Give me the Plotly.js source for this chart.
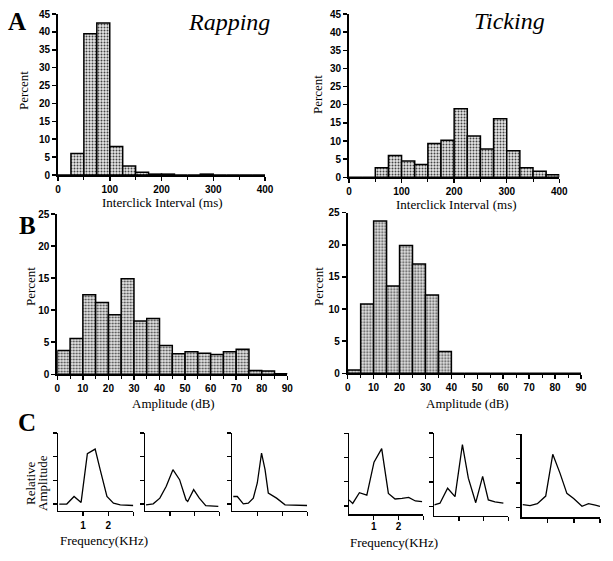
<!DOCTYPE html>
<html><head><meta charset="utf-8">
<script src="https://cdn.plot.ly/plotly-3.0.1.min.js"></script>
<style>html,body{margin:0;padding:0;background:#fff;}#chart{width:613px;height:561px;}</style>
</head><body><div id="chart"></div>
<script>
// ---- Data ----
const intervalBins = [0,25,50,75,100,125,150,175,200,225,250,275,300,325,350,375];
const rappingInterval = [0,6,39.5,42.5,8,2.5,0.8,0.25,0.25,0,0,0.25,0,0,0,0];
const tickingInterval = [0,0,2.6,6,4.5,3.5,9.3,10.2,18.9,11.4,7.8,16.1,7.3,2.6,1.7,0.7];
const amplitudeBins = [0,5,10,15,20,25,30,35,40,45,50,55,60,65,70,75,80,85];
const rappingAmplitude = [3.7,5.6,12.4,11.2,9.3,14.9,8.3,8.7,4.5,3.2,3.5,3.3,3.1,3.5,3.9,0.6,0.5,0.1];
const tickingAmplitude = [0.5,10.8,23.7,13.6,19.9,17,12.2,3.4,0,0,0,0,0,0,0,0,0,0];

const rapFreq1 = [0.05,0.35,0.64,0.92,1.17,1.48,1.68,1.95,2.21,2.48,3.0];
const rapAmp1  = [0,0,0.32,0.07,2.13,2.32,1.45,0.32,0.04,-0.03,-0.06];
const rapFreq2 = [0.03,0.32,0.59,0.85,1.12,1.39,1.65,1.72,1.96,2.19,2.45,2.96];
const rapAmp2  = [-0.03,0.01,0.25,0.75,1.45,1.03,0.18,0.11,0.61,0.25,-0.07,-0.1];
const rapFreq3 = [0.04,0.2,0.44,0.64,0.84,1.0,1.17,1.31,1.44,1.77,2.11,2.99];
const rapAmp3  = [0.32,0.32,0.01,0.04,0.25,0.89,2.15,1.45,0.46,0.25,-0.03,-0.06];
const tickFreq1 = [0,0.15,0.42,0.72,1.01,1.32,1.59,1.86,2.14,2.41,2.68,2.95];
const tickAmp1  = [0.25,0.11,0.55,0.45,1.81,2.37,0.52,0.29,0.32,0.36,0.21,0.18];
const tickFreq2 = [0,0.23,0.54,0.84,1.14,1.38,1.68,1.96,2.19,2.46,2.8];
const tickAmp2  = [0.07,0.14,0.75,0.41,2.53,1.16,0.16,1.23,0.27,0.19,0.14];
const tickFreq3 = [0.04,0.32,0.6,0.92,1.19,1.47,1.73,1.99,2.31,2.56,2.82,3.0];
const tickAmp3  = [0.12,0.08,0.16,0.47,2.18,1.4,0.58,0.37,0.05,0.16,0.1,0.05];

const freqTicks = [1,2,3];
const freqTickText = ['1','2',''];

// ---- Layout helpers ----
const W = 613, H = 561;
const dx = (a,b) => [a/W, b/W];
const dy = (top,bot) => [1-bot/H, 1-top/H];
const tickFont = {family:'Liberation Sans, Arial, sans-serif', size:10, color:'#000', weight:'bold'};
const serif = 'Liberation Serif, Times New Roman, serif';

const barMarker = {
  color:'#c4c4c4',
  line:{color:'#000', width:1.5},
  pattern:{shape:'.', fgcolor:'#444', bgcolor:'#e6e6e6', size:3, solidity:0.35}
};

function bar(x, y, w, xa, ya){
  return {type:'bar', x:x, y:y, width:w, offset:0, xaxis:xa, yaxis:ya, marker:barMarker, hoverinfo:'skip'};
}
function line(x, y, xa, ya){
  return {type:'scatter', mode:'lines', x:x, y:y, xaxis:xa, yaxis:ya, line:{color:'#000', width:1.3}, hoverinfo:'skip'};
}

function histX(domain, range, dtick, minor, anchor){
  return {domain:domain, range:range, anchor:anchor, tickmode:'linear', tick0:0, dtick:dtick,
    showline:true, linewidth:2, linecolor:'#000', ticks:'outside', ticklen:4, tickwidth:1.5, tickcolor:'#000',
    minor:{dtick:minor, ticks:'outside', ticklen:3, tickwidth:1, tickcolor:'#000'},
    showgrid:false, zeroline:false, tickfont:tickFont, fixedrange:true};
}
function histY(domain, range, anchor){
  return {domain:domain, range:range, anchor:anchor, tickmode:'linear', tick0:0, dtick:5,
    showline:true, linewidth:2, linecolor:'#000', ticks:'outside', ticklen:4, tickwidth:1.5, tickcolor:'#000',
    showgrid:false, zeroline:false, tickfont:tickFont, fixedrange:true};
}
function specX(domain, anchor, labels, standoff){
  return {domain:domain, range:[0,3], anchor:anchor, tickmode:'array', tickvals:freqTicks, ticktext:freqTickText,
    showticklabels:labels, showline:true, linewidth:1.5, linecolor:'#000', ticks:'outside', ticklen:4, tickwidth:1.3,
    tickcolor:'#000', showgrid:false, zeroline:false, tickfont:tickFont, ticklabelstandoff:standoff||0, fixedrange:true};
}
function specY(domain, range, anchor){
  return {domain:domain, range:range, anchor:anchor, tickmode:'array', tickvals:[0,1,2,3], showticklabels:false,
    showline:true, linewidth:1.5, linecolor:'#000', ticks:'outside', ticklen:4, tickwidth:1.3, tickcolor:'#000',
    showgrid:false, zeroline:false, fixedrange:true};
}

const data = [
  bar(intervalBins, rappingInterval, 25, 'x', 'y'),
  bar(intervalBins, tickingInterval, 25, 'x2', 'y2'),
  bar(amplitudeBins, rappingAmplitude, 5, 'x3', 'y3'),
  bar(amplitudeBins, tickingAmplitude, 5, 'x4', 'y4'),
  line(rapFreq1, rapAmp1, 'x5', 'y5'),
  line(rapFreq2, rapAmp2, 'x6', 'y6'),
  line(rapFreq3, rapAmp3, 'x7', 'y7'),
  line(tickFreq1, tickAmp1, 'x8', 'y8'),
  line(tickFreq2, tickAmp2, 'x9', 'y9'),
  line(tickFreq3, tickAmp3, 'x10', 'y10')
];

function ann(text, x, y, size, opts){
  return Object.assign({text:text, x:x/W, y:1-y/H, xref:'paper', yref:'paper', showarrow:false,
    xanchor:'center', yanchor:'middle', font:{family:serif, size:size, color:'#000'}}, opts||{});
}

const annotations = [
  ann('A', 17, 21, 25, {font:{family:serif, size:25, color:'#000', weight:'bold'}}),
  ann('B', 27, 225, 25, {font:{family:serif, size:25, color:'#000', weight:'bold'}}),
  ann('C', 27, 422, 25, {font:{family:serif, size:25, color:'#000', weight:'bold'}}),
  ann('<i>Rapping</i>', 229, 22, 24),
  ann('<i>Ticking</i>', 509, 21, 24),
  ann('Percent', 24, 90, 13, {textangle:-90}),
  ann('Percent', 318, 95, 13, {textangle:-90}),
  ann('Percent', 30, 287, 13, {textangle:-90}),
  ann('Percent', 318, 287, 13, {textangle:-90}),
  ann('Interclick Interval (ms)', 163, 203, 13),
  ann('Interclick Interval (ms)', 456, 204, 13),
  ann('Amplitude (dB)', 173, 403, 13),
  ann('Amplitude (dB)', 468, 403, 13),
  ann('Relative', 30, 483, 13, {textangle:-90}),
  ann('Amplitude', 42, 483, 13, {textangle:-90}),
  ann('Frequency(KHz)', 104, 540, 13),
  ann('Frequency(KHz)', 394, 542, 13)
];

const layout = {
  width:W, height:H, margin:{l:0,r:0,t:0,b:0}, paper_bgcolor:'#fff', plot_bgcolor:'rgba(0,0,0,0)',
  showlegend:false, bargap:0,
  xaxis:  histX(dx(58,265), [0,400], 100, 50, 'y'),
  yaxis:  histY(dy(14,175), [0,45], 'x'),
  xaxis2: histX(dx(349,559.3), [0,400], 100, 50, 'y2'),
  yaxis2: histY(dy(14,177.3), [0,45], 'x2'),
  xaxis3: histX(dx(57.3,287.3), [0,90], 10, 5, 'y3'),
  yaxis3: histY(dy(214,374.3), [0,25], 'x3'),
  xaxis4: histX(dx(347.7,581), [0,90], 10, 5, 'y4'),
  yaxis4: histY(dy(212.7,373.3), [0,25], 'x4'),
  xaxis5: specX(dx(58,133.3), 'y5', true, 1),
  yaxis5: specY(dy(433,510.7), [-0.28,3], 'x5'),
  xaxis6: specX(dx(145.3,219.3), 'y6', false),
  yaxis6: specY(dy(433,510.7), [-0.28,3], 'x6'),
  xaxis7: specX(dx(232.3,307.3), 'y7', false),
  yaxis7: specY(dy(433,510.7), [-0.28,3], 'x7'),
  xaxis8: specX(dx(349,423.3), 'y8', true, -2),
  yaxis8: specY(dy(433.3,514.3), [-0.34,3], 'x8'),
  xaxis9: specX(dx(434.3,508.3), 'y9', false),
  yaxis9: specY(dy(433,515.7), [-0.37,3], 'x9'),
  xaxis10: specX(dx(521.7,600), 'y10', false),
  yaxis10: specY(dy(434.3,517.3), [-0.4,3], 'x10'),
  annotations: annotations
};

Plotly.newPlot('chart', data, layout, {staticPlot:true, displayModeBar:false});
</script>
</body></html>
